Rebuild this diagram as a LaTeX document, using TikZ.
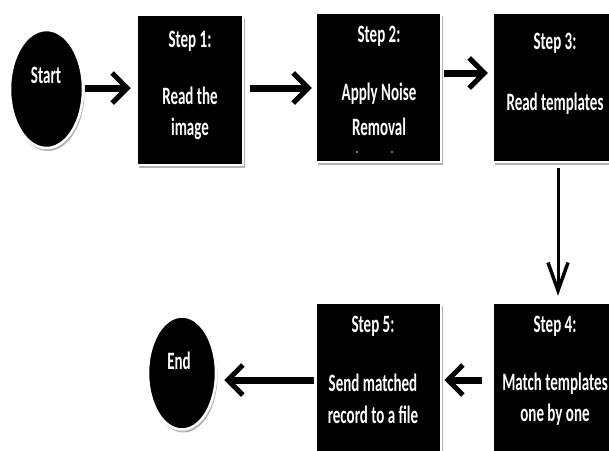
\documentclass[tikz,border=0pt]{standalone}
\usepackage{fontspec}
\setmainfont{Carlito}
\usetikzlibrary{arrows.meta,shadows,shapes.geometric}
\newcommand{\sqz}[1]{\scalebox{0.6}[1]{#1}}
\begin{document}
\begin{tikzpicture}[x=1pt,y=-1pt,
  boxshadow/.style={drop shadow={shadow xshift=1.5pt,shadow yshift=-3pt,fill=black,opacity=0.3}},
  stepbox/.style 2 args={rectangle,fill=black,draw=white,line width=2.5pt,minimum width=#1,minimum height=#2,inner sep=0pt,boxshadow},
  termnode/.style 2 args={ellipse,fill=black,draw=white,line width=2.5pt,minimum width=#1,minimum height=#2,inner sep=0pt,boxshadow},
  lbl/.style={text=white,font=\bfseries\fontsize{25}{29}\selectfont,inner sep=0pt},
  bigarrow/.style={line width=7pt,-{Straight Barb[length=15pt,width=30pt,line width=5pt]}},
  thinarrow/.style={line width=3pt,-{Straight Barb[length=28pt,width=20pt,line width=3.5pt]}}
]
\path[use as bounding box,clip] (0,0) rectangle (609,450);
\fill[white] (0,0) rectangle (609,450);

% shapes
\node[termnode={73pt}{118pt}] (start) at (46.5,89) {};
\node[stepbox={106pt}{150pt}] (s1) at (190,90) {};
\node[stepbox={125pt}{149pt}] (s2) at (378.5,87.5) {};
\node[stepbox={122pt}{149pt}] (s3) at (554,87.5) {};
\node[stepbox={122pt}{155pt}] (s4) at (554,380.5) {};
\node[stepbox={125pt}{155pt}] (s5) at (378.5,380.5) {};
\node[termnode={68pt}{113pt}] (end) at (182,373) {};

% texts
\node[lbl] (startt) at (46,75) {\sqz{Start}};
\node[lbl] (s1a) at (190,41) {\sqz{Step 1:}};
\node[lbl] (s1b) at (190,96) {\sqz{Read the}};
\node[lbl] (s1c) at (190,129) {\sqz{image}};
\node[lbl] (s2a) at (379,36) {\sqz{Step 2:}};
\node[lbl] (s2b) at (379,94) {\sqz{Apply Noise}};
\node[lbl] (s2c) at (379,127) {\sqz{Removal}};
\node[circle,fill=white,inner sep=0pt,minimum size=1.6pt] (d1) at (357,152) {};
\node[circle,fill=white,inner sep=0pt,minimum size=1.6pt] (d2) at (392,152) {};
\node[lbl] (s3a) at (555,43) {\sqz{Step 3:}};
\node[lbl] (s3b) at (555,104) {\sqz{Read templates}};
\node[lbl] (s4a) at (555,326) {\sqz{Step 4:}};
\node[lbl] (s4b) at (555,384) {\sqz{Match templates}};
\node[lbl] (s4c) at (555,415) {\sqz{one by one}};
\node[lbl] (s5a) at (373,326) {\sqz{Step 5:}};
\node[lbl] (s5b) at (373,383) {\sqz{Send matched}};
\node[lbl] (s5c) at (373,415) {\sqz{record to a file}};
\node[lbl] (endt) at (179,361) {\sqz{End}};

% connectors
\draw[bigarrow,shorten <=1pt,shorten >=5pt] (start.east |- 0,88) -- (s1.west |- 0,88);
\draw[bigarrow,shorten <=6pt,shorten >=3pt] (s1.east |- 0,88) -- (s2.west |- 0,88);
\draw[bigarrow,shorten <=2pt,shorten >=4pt] (s2.east |- 0,73) -- (s3.west |- 0,73);
\draw[thinarrow,shorten <=5pt,shorten >=6pt] (s3.south -| 558,0) -- (s4.north -| 558,0);
\draw[bigarrow,shorten <=10pt,shorten >=2pt] (s4.west |- 0,380) -- (s5.east |- 0,380);
\draw[bigarrow,shorten <=1pt,shorten >=7pt] (s5.west |- 0,380) -- (end.east |- 0,380);
\end{tikzpicture}
\end{document}
